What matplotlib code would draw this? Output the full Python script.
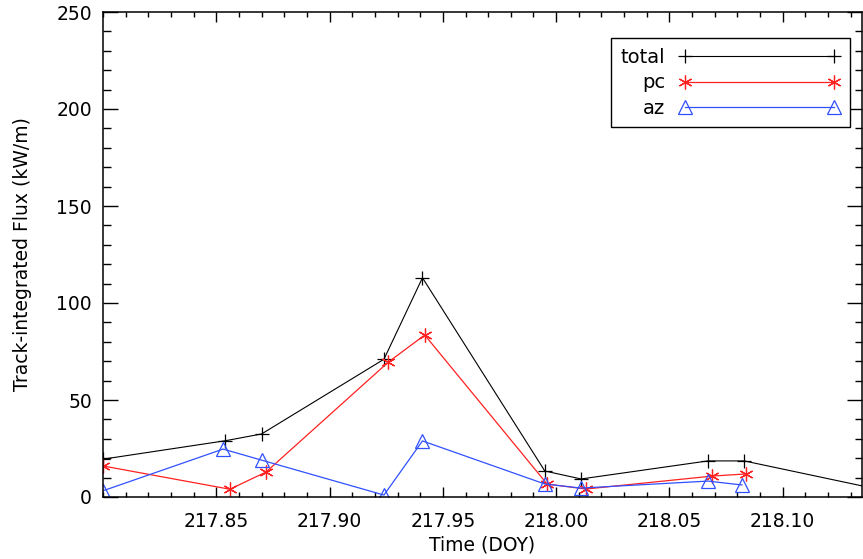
import numpy as np
import matplotlib
matplotlib.use('Agg')
import matplotlib.pyplot as plt
from matplotlib.ticker import MultipleLocator

# time (DOY) of each track and track-integrated flux (kW/m)
t_total = [217.800, 217.854, 217.870, 217.924, 217.941, 217.995, 218.011, 218.067, 218.083, 218.140]
f_total = [19.5, 29.0, 32.5, 71.0, 113.0, 13.4, 9.3, 18.6, 18.6, 4.5]

t_pc = [217.800, 217.856, 217.872, 217.926, 217.942, 217.996, 218.013, 218.069, 218.084]
f_pc = [16.0, 4.0, 12.9, 69.6, 83.5, 6.7, 4.1, 10.8, 11.9]

t_az = [217.800, 217.853, 217.870, 217.924, 217.941, 217.995, 218.011, 218.067, 218.082]
f_az = [3.2, 24.7, 19.0, 1.0, 28.9, 6.7, 4.6, 8.2, 6.2]

plt.rcParams['font.family'] = 'DejaVu Sans'

fig = plt.figure(figsize=(8.63, 5.59), dpi=100)
ax = fig.add_axes([103/863, 62/559, 759/863, 485/559])

ax.plot(t_total, f_total, color='black', lw=0.8, marker='+', ms=10, mew=0.9,
        label='total')
ax.plot(t_pc, f_pc, color='#ff2020', lw=0.9, marker=(6, 2, 0), ms=10, mew=0.9,
        label='pc')
ax.plot(t_az, f_az, color='#3050ff', lw=0.9, marker='^', ms=9.5, mew=0.9,
        mfc='none', label='az')

ax.set_xlim(217.800, 218.135)
ax.set_ylim(0, 250)

ax.xaxis.set_major_locator(MultipleLocator(0.05))
ax.xaxis.set_minor_locator(MultipleLocator(0.01))
ax.yaxis.set_major_locator(MultipleLocator(50))
ax.yaxis.set_minor_locator(MultipleLocator(10))
ax.set_xticks([217.85, 217.90, 217.95, 218.00, 218.05, 218.10])
ax.set_xticklabels(['217.85', '217.90', '217.95', '218.00', '218.05', '218.10'])

ax.tick_params(axis='x', which='major', direction='in', length=7, width=1.0,
               top=True, labelsize=13.5, pad=11)
ax.tick_params(axis='x', which='minor', direction='in', length=3.5, width=1.0, top=True)
ax.tick_params(axis='y', which='major', direction='in', length=11, width=1.0,
               right=True, labelsize=13.5, pad=8)
ax.tick_params(axis='y', which='minor', direction='in', length=5.4, width=1.0, right=True)
for s in ax.spines.values():
    s.set_linewidth(1.1)

ax.set_xlabel('Time (DOY)', fontsize=13.5)
ax.set_ylabel('Track-integrated Flux (kW/m)', fontsize=13.5)
ax.xaxis.set_label_coords(0.5, -0.08)
ax.yaxis.set_label_coords(-0.0935, 0.5)

leg = ax.legend(loc='upper right', bbox_to_anchor=(0.984, 0.946), markerfirst=False,
                numpoints=2, handlelength=8.3, fontsize=14, frameon=True, fancybox=False,
                edgecolor='black', framealpha=1, borderpad=0.5, labelspacing=0.33,
                handletextpad=0.7, borderaxespad=0)
leg.get_frame().set_linewidth(1.0)

fig.savefig('out.png', dpi=100)
